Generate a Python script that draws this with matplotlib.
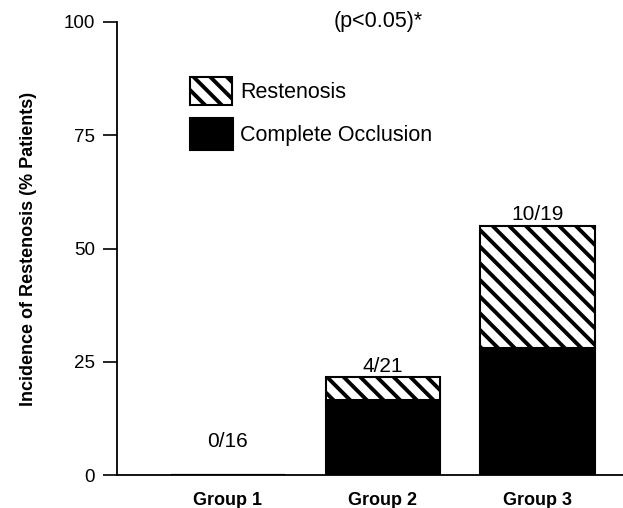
import matplotlib.pyplot as plt
import numpy as np

plt.rcParams['font.family'] = ['Liberation Sans', 'DejaVu Sans']
plt.rcParams['hatch.linewidth'] = 2.8

groups = ["Group 1", "Group 2", "Group 3"]
occlusion = [0, 16.5, 28]
restenosis_total = [0, 21.6, 55]
counts = ["0/16", "4/21", "10/19"]

occl = np.array(occlusion)
rest = np.array(restenosis_total) - occl
x = np.arange(len(groups))

fig = plt.figure(figsize=(6.23, 5.08), dpi=100)
ax = fig.add_axes([117 / 623, 33 / 508, 1 - 117 / 623, 453 / 508])

ax.bar(x, occl, width=0.74, color="black", edgecolor="black", linewidth=1.5)
ax.bar(x, rest, bottom=occl, width=0.74, color="white", edgecolor="black",
       hatch="\\\\", linewidth=1.5)

for i, c in enumerate(counts):
    off = 17 if restenosis_total[i] == 0 else 1
    ax.annotate(c, (x[i], restenosis_total[i]), xytext=(0, off),
                textcoords="offset points", ha="center", va="bottom", fontsize=15)

ax.set_xlim(-0.716, 2.55)
ax.set_ylim(0, 100)
ax.set_yticks([0, 25, 50, 75, 100])
ax.set_xticks(x)
ax.set_xticklabels(groups, fontweight="bold", fontsize=13)
ax.tick_params(axis="y", length=10, width=1.2, labelsize=13.5, pad=6)
ax.tick_params(axis="x", length=0, pad=12)
for s in ["top", "right"]:
    ax.spines[s].set_visible(False)
ax.spines["left"].set_linewidth(1.3)
ax.spines["bottom"].set_linewidth(1.3)
ax.set_ylabel("Incidence of Restenosis (% Patients)", fontweight="bold",
              fontsize=13, labelpad=19)

ax.text(378 / 623, 486 / 508, "(p<0.05)*", transform=fig.transFigure,
        ha="center", va="center", fontsize=15.5)

# legend drawn as boxes
ax.add_patch(plt.Rectangle((190 / 623, 403 / 508), 42 / 623, 28 / 508,
                           transform=fig.transFigure, facecolor="white",
                           edgecolor="black", hatch="\\\\", linewidth=1.5))
ax.add_patch(plt.Rectangle((190 / 623, 358 / 508), 43 / 623, 32 / 508,
                           transform=fig.transFigure, facecolor="black",
                           edgecolor="black", linewidth=1.5))
fig.text(240 / 623, 416 / 508, "Restenosis", ha="left", va="center", fontsize=15.5)
fig.text(240 / 623, 373 / 508, "Complete Occlusion", ha="left", va="center", fontsize=15.5)

fig.savefig("out.png", dpi=100)
